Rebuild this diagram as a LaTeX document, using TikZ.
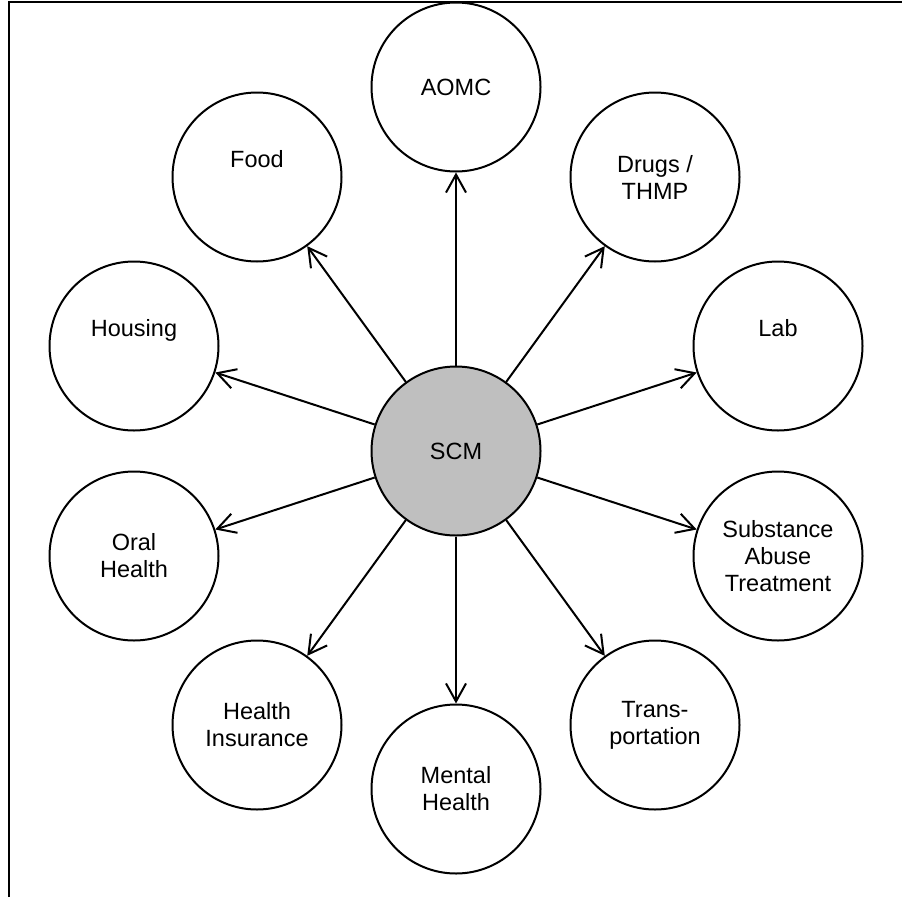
\documentclass[tikz,border=0pt]{standalone}
\usepackage{fontspec}
\setmainfont{Liberation Sans}
\usetikzlibrary{arrows.meta}
\begin{document}
\begin{tikzpicture}[x=1pt,y=-1pt,
  bubble/.style={circle,draw,line width=2pt,minimum size=169pt,inner sep=0pt,align=center,
    font=\fontsize{23.5}{27}\selectfont},
  hub/.style={bubble,fill=black!25},
  link/.style={line width=2pt,-{Straight Barb[length=18pt,width=20pt]}}]
\useasboundingbox (0,0) rectangle (902,897);
\coordinate (fbl) at (9,897);
\coordinate (ftl) at (9,2);
\coordinate (ftr) at (902,2);
\draw[line width=1.6pt] (fbl) -- (ftl) -- (ftr);
\node[hub] (scm) at (456,451) {SCM};
\node[bubble] (aomc) at (456,87) {AOMC};
\node[bubble] (food) at (257,177) {Food\\\strut};
\node[bubble] (drugs) at (655,177) {Drugs /\\THMP};
\node[bubble] (housing) at (134,346) {Housing\\\strut};
\node[bubble] (lab) at (778,346) {Lab\\\strut};
\node[bubble] (oral) at (134,556) {Oral\\Health};
\node[bubble] (subst) at (778,556) {Substance\\Abuse\\Treatment};
\node[bubble] (ins) at (257,725) {Health\\Insurance};
\node[bubble] (mental) at (456,789) {Mental\\Health};
\node[bubble] (trans) at (655,725) {Trans-\\portation};
\foreach \t in {aomc,food,drugs,housing,lab,oral,subst,ins,mental,trans}
  \draw[link] (scm) -- (\t);
\end{tikzpicture}
\end{document}
